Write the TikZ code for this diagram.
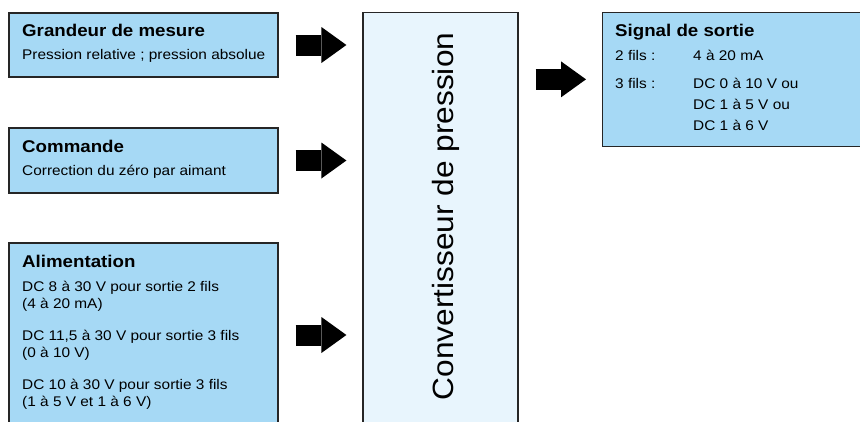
\documentclass[tikz,border=0pt]{standalone}
\usepackage{fontspec}
\usepackage{tikz}
\usetikzlibrary{arrows.meta,positioning}
\newfontfamily\boxfont[FakeStretch=1.1]{Liberation Sans}
\newfontfamily\convfont[FakeStretch=1.08]{Liberation Sans}
\definecolor{boxblue}{RGB}{166,217,245}
\definecolor{convblue}{RGB}{232,245,253}
\def\tit#1{{\fontsize{17}{17}\selectfont\bfseries #1}}
\def\col{\hspace*{78pt}}

\begin{document}
\begin{tikzpicture}[x=1pt,y=-1pt,
  infobox/.style={draw=black!85, line width=1.2pt, fill=boxblue, minimum width=269pt},
  txt/.style={anchor=base west, inner sep=0pt, align=left, font=\boxfont\fontsize{14}{17}\selectfont},
  bigarrow/.style={line width=21pt, -{Triangle[length=25pt,width=36pt,line width=0pt]}, shorten <=17pt, shorten >=16pt}]
\clip (0,0) rectangle (860,421);
\fill[white] (0,0) rectangle (860,421);

% boxes
\node[infobox, minimum height=64pt] (gm) at (143.5,45) {};
\node[infobox, minimum height=65pt] (cmd) at (143.5,160.5) {};
\node[infobox, minimum height=184pt] (alim) at (143.5,335) {};
\node[draw=black!85, line width=1.2pt, fill=convblue, minimum width=155pt, minimum height=430pt, anchor=north] (conv) at (440.5,12) {};
\node[infobox, minimum width=280pt, minimum height=133.5pt, anchor=north west] (out) at (602,12) {};

% texts (placed by the baseline of their last line)
\node[txt] (gmtxt) at (22,59) {\tit{Grandeur de mesure}\\[6pt]Pression relative ; pression absolue};
\node[txt] (cmdtxt) at (22,175) {\tit{Commande}\\[6pt]Correction du z\'ero par aimant};
\node[txt] (alimtxt) at (22,406) {\tit{Alimentation}\\[7pt]DC 8 \`a 30 V pour sortie 2 fils\\(4 \`a 20 mA)\\[15pt]DC 11,5 \`a 30 V pour sortie 3 fils\\(0 \`a 10 V)\\[15pt]DC 10 \`a 30 V pour sortie 3 fils\\(1 \`a 5 V et 1 \`a 6 V)};
\node[txt, font=\boxfont\fontsize{14}{21}\selectfont] (outtxt) at (615,130) {\tit{Signal de sortie}\\[3pt]\makebox[78pt][l]{2 fils :}4 \`a 20 mA\\[7pt]\makebox[78pt][l]{3 fils :}DC 0 \`a 10 V ou\\\col DC 1 \`a 5 V ou\\\col DC 1 \`a 6 V};
\node[rotate=90, anchor=base, inner sep=0pt, font=\convfont\fontsize{29.3}{30}\selectfont] (convtxt) at (453,216.5) {Convertisseur de pression};

% arrows
\draw[bigarrow] (gm.east) -- (gm.east -| conv.west);
\draw[bigarrow] (cmd.east) -- (cmd.east -| conv.west);
\draw[bigarrow] (alim.east) -- (alim.east -| conv.west);
\draw[bigarrow] (conv.east |- out.west) -- (out.west);
\end{tikzpicture}
\end{document}
